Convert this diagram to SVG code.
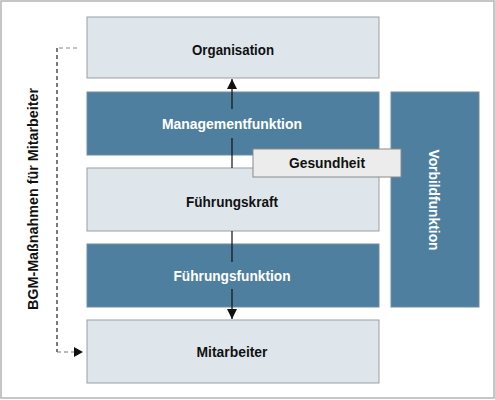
<svg xmlns="http://www.w3.org/2000/svg" width="495" height="400" viewBox="0 0 495 400">
<style>
.light{fill:#dee6ec;stroke:#9a9fa3;stroke-width:1}
.dark{fill:#4f7f9f;stroke:#6f8fa5;stroke-width:1}
.t{font-family:"Liberation Sans",Arial,sans-serif;font-weight:bold;font-size:15px;text-anchor:middle}
.tb{fill:#111}
.tw{fill:#fff}
.conn{stroke:#111;stroke-width:1.2;fill:none}
.dash{stroke-width:1.2;fill:none;stroke-dasharray:4 3}
</style>
<defs>
<marker id="ah" viewBox="0 0 10 10" refX="10" refY="5" markerWidth="10" markerHeight="10" markerUnits="userSpaceOnUse" orient="auto">
<path d="M0,0 L10,5 L0,10 Z" fill="#111"/>
</marker>
</defs>
<rect x="1" y="1" width="493" height="397" fill="#fff" stroke="#b4b4b4" stroke-width="1.5"/>
<g id="organisation">
<rect class="light" x="87" y="17" width="292" height="61"/>
<text class="t tb" x="233" y="55" textLength="82" lengthAdjust="spacingAndGlyphs">Organisation</text>
</g>
<g id="managementfunktion">
<rect class="dark" x="87" y="92" width="292" height="63"/>
<text class="t tw" x="232" y="129" textLength="140" lengthAdjust="spacingAndGlyphs">Managementfunktion</text>
</g>
<g id="fuehrungskraft">
<rect class="light" x="87" y="168" width="292" height="63"/>
<text class="t tb" x="232" y="207" textLength="92" lengthAdjust="spacingAndGlyphs">Führungskraft</text>
</g>
<g id="fuehrungsfunktion">
<rect class="dark" x="87" y="244" width="292" height="63"/>
<text class="t tw" x="232" y="281" textLength="117" lengthAdjust="spacingAndGlyphs">Führungsfunktion</text>
</g>
<g id="mitarbeiter">
<rect class="light" x="87" y="320" width="292" height="63"/>
<text class="t tb" x="232" y="357" textLength="71" lengthAdjust="spacingAndGlyphs">Mitarbeiter</text>
</g>
<g id="vorbildfunktion">
<rect class="dark" x="391" y="92" width="88" height="215"/>
<text class="t tw" transform="translate(429,200) rotate(90)" x="0" y="0" textLength="101" lengthAdjust="spacingAndGlyphs">Vorbildfunktion</text>
</g>
<g id="connectors">
<line class="conn" x1="232" y1="168" x2="232" y2="138"/>
<line class="conn" x1="232" y1="109" x2="232" y2="79" marker-end="url(#ah)"/>
<line class="conn" x1="232" y1="231" x2="232" y2="262"/>
<line class="conn" x1="232" y1="289" x2="232" y2="319" marker-end="url(#ah)"/>
<path class="dash" d="M77,48 H57" stroke="#888"/>
<path class="dash" d="M57,48 V352" stroke="#222"/>
<path class="dash" d="M57,352 H74" stroke="#777"/>
<path d="M74,347 L83,352 L74,357 Z" fill="#111"/>
</g>
<g id="gesundheit">
<rect x="253" y="149" width="148" height="28" fill="#ececec" stroke="#8a8a8a" stroke-width="1"/>
<text class="t tb" x="327" y="168" textLength="76" lengthAdjust="spacingAndGlyphs">Gesundheit</text>
</g>
<g id="bgm-label">
<text class="t tb" transform="translate(38,199) rotate(-90)" x="0" y="0" textLength="222" lengthAdjust="spacingAndGlyphs">BGM-Maßnahmen für Mitarbeiter</text>
</g>
</svg>
